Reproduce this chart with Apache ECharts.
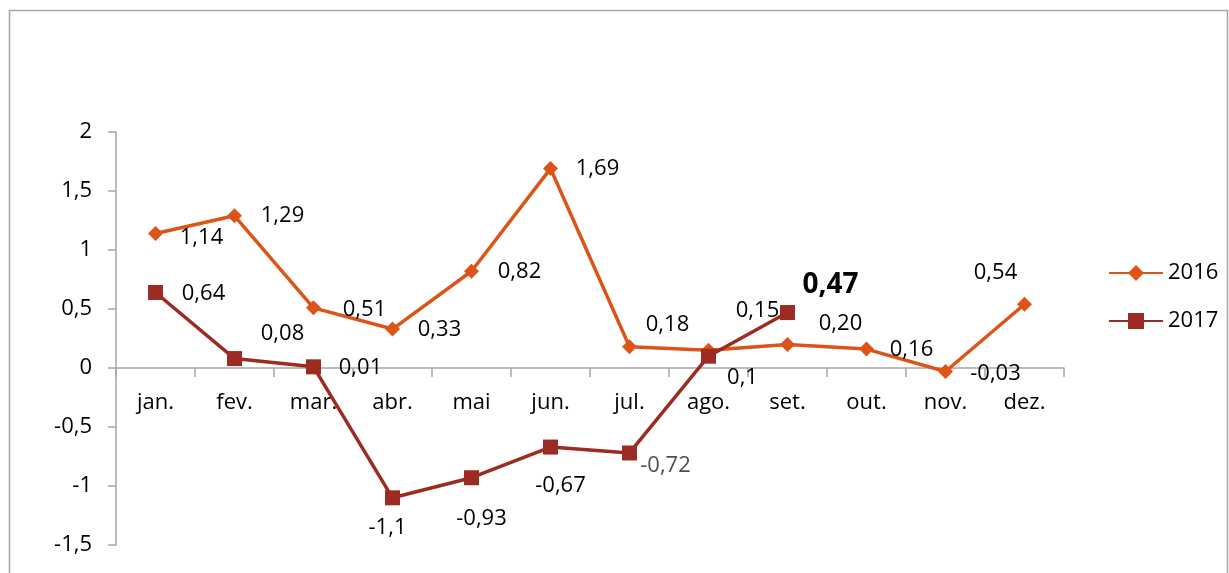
<!DOCTYPE html>
<html>
<head>
<meta charset="utf-8">
<script src="https://cdn.jsdelivr.net/npm/echarts@6/dist/echarts.min.js"></script>
<style>
html,body{margin:0;padding:0;background:#fff;}
#chart{width:1229px;height:573px;}
</style>
</head>
<body>
<div id="chart"></div>
<script>
const categories = ['jan.','fev.','mar.','abr.','mai','jun.','jul.','ago.','set.','out.','nov.','dez.'];
const values2016 = [1.14,1.29,0.51,0.33,0.82,1.69,0.18,0.15,0.20,0.16,-0.03,0.54];
const values2017 = [0.64,0.08,0.01,-1.1,-0.93,-0.67,-0.72,0.1,0.47];
const labels2016 = ['1,14','1,29','0,51','0,33','0,82','1,69','0,18','0,15','0,20','0,16','-0,03','0,54'];
const labels2017 = ['0,64','0,08','0,01','-1,1','-0,93','-0,67','-0,72','0,1','0,47'];
const yTicks = [-1.5,-1,-0.5,0,0.5,1,1.5,2];

// label placement (pixel offsets from each point)
const off2016 = [[46,4],[48,0],[51,2],[47,1],[48,0],[47,0],[38,-22],[49,-40],[53,-21],[45,1],[50,2],[-29,-32]];
const off2017 = [[48,1],[48,-25],[47,1],[-5,30],[10,41],[10,39],[36,13],[34,22],[43,-28]];

const C16 = '#DD5419', C17 = '#9C2C22';
const FONT = '"Open Sans", sans-serif';
const GRID = {left:116, right:165, top:132, bottom:28};
const H = 573;
const yMin = yTicks[0], yMax = yTicks[yTicks.length-1];
const plotH = H - GRID.top - GRID.bottom;
const zeroShift = plotH * (0 - yMin) / (yMax - yMin);

function build(values, labels, offs, special) {
  return values.map((v, i) => {
    const lab = {show:true, position:'inside', offset:offs[i], formatter: labels[i],
      align:'center', verticalAlign:'middle', color:'#000', fontSize:22, fontFamily:FONT};
    if (special && special[i]) Object.assign(lab, special[i]);
    return {value:v, label:lab};
  });
}

const chart = echarts.init(document.getElementById('chart'), null, {renderer:'canvas'});
chart.setOption({
  animation:false,
  backgroundColor:'#fff',
  graphic:[{type:'rect', shape:{x:9.5,y:10.5,width:1218,height:600},
    style:{fill:'none', stroke:'#a6a6a6', lineWidth:1.5}, silent:true, z:-1}],
  grid:Object.assign({containLabel:false, outerBoundsMode:'none'}, GRID),
  legend:{orient:'vertical', left:1103, top:257, itemWidth:54, itemHeight:20, itemGap:26,
    textStyle:{fontSize:22, fontFamily:FONT, color:'#000'}, data:['2016','2017']},
  xAxis:{type:'category', data:categories, boundaryGap:true, offset:-zeroShift,
    axisLine:{onZero:false, lineStyle:{color:'#a6a6a6', width:1.5}},
    axisTick:{show:true, length:9, inside:false, lineStyle:{color:'#a6a6a6', width:1.5}},
    axisLabel:{margin:24, fontSize:22, fontFamily:FONT, color:'#000'}},
  yAxis:{type:'value', min:yMin, max:yMax, interval:0.5,
    splitLine:{show:false},
    axisLine:{show:true, lineStyle:{color:'#a6a6a6', width:1.5}},
    axisTick:{show:true, length:8, lineStyle:{color:'#a6a6a6', width:1.5}},
    axisLabel:{margin:24, fontSize:22, fontFamily:FONT, color:'#000',
      formatter: v => String(v).replace('.', ',')}},
  series:[
    {name:'2016', type:'line', data:build(values2016, labels2016, off2016),
     symbol:'diamond', symbolSize:15, color:C16,
     lineStyle:{width:3.5, color:C16}, itemStyle:{color:C16}, z:2},
    {name:'2017', type:'line', data:build(values2017, labels2017, off2017,
       {6:{color:'#505050'}, 8:{fontWeight:'bold', fontSize:28}}),
     symbol:'rect', symbolSize:15, color:C17,
     lineStyle:{width:3.5, color:C17}, itemStyle:{color:C17}, z:3}
  ]
});
</script>
</body>
</html>
